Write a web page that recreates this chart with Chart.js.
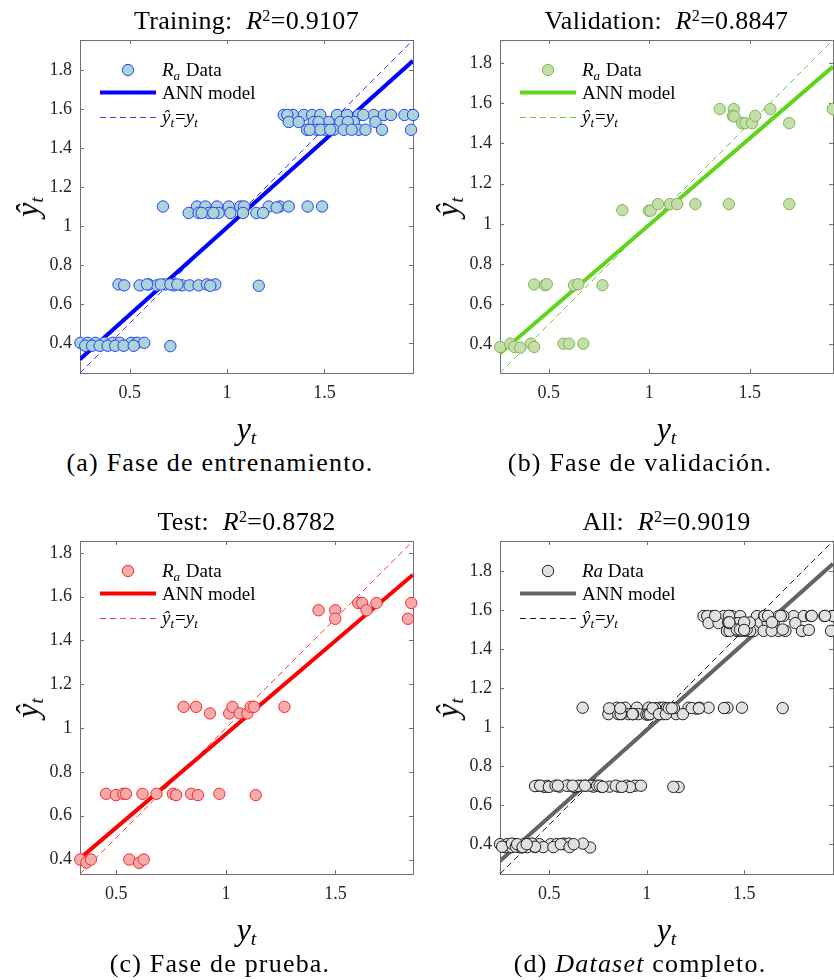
<!DOCTYPE html>
<html lang="es">
<head>
<meta charset="UTF-8">
<title>Regresión ANN - Ra</title>
<script src="https://cdn.jsdelivr.net/npm/chart.js"></script>
<style>
  body {
    margin: 0;
    width: 834px;
    height: 980px;
    overflow: hidden;
    position: relative;
    background: #fff;
    font-family: "Liberation Serif", serif;
    color: #000;
  }
  canvas { position: absolute; }
  .lbl {
    position: absolute;
    white-space: nowrap;
    transform: translate(-50%, -50%);
    line-height: 1;
  }
  .title { font-size: 26px; letter-spacing: 0.3px; }
  .caption { font-size: 26px; letter-spacing: 1.2px; }
  .axis { font-size: 32px; font-style: italic; }
  .ylab { transform: translate(-50%, -50%) rotate(-90deg); }
  sup { font-size: 0.62em; vertical-align: 0.5em; line-height: 0; }
  sub { font-size: 0.62em; vertical-align: -0.25em; line-height: 0; }
</style>
</head>
<body>

<script>
// ---- data ----
const xTicks = [0.5, 1, 1.5];
const yTicks = [0.4, 0.6, 0.8, 1, 1.2, 1.4, 1.6, 1.8];

// training phase
const trainX = [0.247, 0.284, 0.324, 0.370, 0.414, 0.449, 0.507, 0.538, 0.575,
  0.272, 0.307, 0.346, 0.387, 0.426, 0.469, 0.521, 0.709,
  0.443, 0.472, 0.551, 0.597, 0.640, 0.683, 0.726, 0.769, 0.808, 0.854, 0.897, 0.940, 1.163, 0.589, 0.660, 0.709, 0.745, 0.914,
  0.671, 0.846, 0.889, 0.949, 1.009, 1.068, 1.214, 1.271, 1.317, 1.414, 1.488, 1.255, 1.087,
  0.803, 0.854, 0.906, 0.957, 1.017, 1.082, 1.151, 1.185, 0.930, 0.870,
  1.291, 1.339, 1.394, 1.437, 1.479, 1.565, 1.616, 1.676, 1.753, 1.805, 1.842, 1.911, 1.955, 1.310, 1.700,
  1.317, 1.368, 1.445, 1.522, 1.582, 1.651, 1.762, 1.620, 1.470,
  1.411, 1.462, 1.505, 1.548, 1.599, 1.676, 1.711, 1.796, 1.945, 1.425, 1.480, 1.530, 1.640];
const trainY = [0.400, 0.400, 0.400, 0.400, 0.400, 0.400, 0.400, 0.400, 0.400,
  0.385, 0.385, 0.385, 0.385, 0.385, 0.385, 0.385, 0.383,
  0.700, 0.695, 0.695, 0.700, 0.695, 0.700, 0.695, 0.695, 0.695, 0.695, 0.700, 0.700, 0.693, 0.700, 0.700, 0.700, 0.700, 0.693,
  1.100, 1.100, 1.100, 1.100, 1.100, 1.100, 1.100, 1.100, 1.100, 1.100, 1.100, 1.095, 1.100,
  1.067, 1.067, 1.067, 1.067, 1.067, 1.067, 1.067, 1.067, 1.067, 1.067,
  1.570, 1.570, 1.570, 1.570, 1.570, 1.570, 1.570, 1.570, 1.570, 1.570, 1.570, 1.570, 1.570, 1.570, 1.570,
  1.534, 1.534, 1.534, 1.534, 1.534, 1.534, 1.534, 1.534, 1.534,
  1.494, 1.494, 1.494, 1.494, 1.494, 1.494, 1.494, 1.494, 1.494, 1.494, 1.494, 1.494, 1.494];

// validation phase
const valX = [0.258, 0.308, 0.328, 0.358, 0.411, 0.427, 0.573, 0.601, 0.672,
  0.427, 0.480, 0.490, 0.626, 0.647, 0.767,
  0.866, 0.998, 1.007, 1.043, 1.103, 1.139, 1.230, 1.396, 1.697,
  1.351, 1.421, 1.417, 1.424, 1.462, 1.478, 1.512, 1.528, 1.603, 1.697, 1.914];
const valY = [0.387, 0.403, 0.387, 0.383, 0.403, 0.387, 0.403, 0.403, 0.403,
  0.698, 0.694, 0.699, 0.694, 0.699, 0.694,
  1.068, 1.065, 1.065, 1.098, 1.098, 1.098, 1.098, 1.098, 1.098,
  1.571, 1.571, 1.537, 1.534, 1.501, 1.501, 1.501, 1.537, 1.571, 1.501, 1.571];

// test phase
const testX = [0.335, 0.363, 0.384, 0.559, 0.604, 0.625,
  0.453, 0.498, 0.532, 0.544, 0.619, 0.683, 0.758, 0.773, 0.841, 0.872, 0.970, 1.136,
  0.807, 0.864, 0.927, 1.015, 1.030, 1.063, 1.098, 1.113, 1.128, 1.267,
  1.423, 1.499, 1.499, 1.604, 1.622, 1.642, 1.687, 1.831, 1.846];
const testY = [0.400, 0.386, 0.400, 0.400, 0.385, 0.400,
  0.700, 0.694, 0.700, 0.700, 0.700, 0.700, 0.700, 0.694, 0.700, 0.694, 0.700, 0.694,
  1.097, 1.097, 1.067, 1.067, 1.097, 1.067, 1.067, 1.097, 1.097, 1.097,
  1.538, 1.538, 1.499, 1.571, 1.571, 1.538, 1.571, 1.499, 1.571];

// fitted ANN lines (end points)
const fitTrainX = [0.245, 1.955], fitTrainY = [0.316, 1.848];
const fitValX = [0.257, 1.915],   fitValY = [0.355, 1.783];
const fitTestX = [0.334, 1.854],  fitTestY = [0.405, 1.700];
const fitAllX = [0.247, 1.955],   fitAllY = [0.314, 1.838];

// axis limits (same for x and y)
const limTrain = [0.245, 1.955];
const limVal = [0.257, 1.915];
const limTest = [0.334, 1.854];
const limAll = [0.247, 1.955];

const r2Values = ['0.9107', '0.8847', '0.8782', '0.9019'];

// full dataset = union of the three phases
const allX = trainX.concat(valX, testX);
const allY = trainY.concat(valY, testY);

// ---- layout / styles ----
const FONT = '"Liberation Serif", serif';
const PLOT = 333;

const panels = [
  { id: 'a', left: 80, top: 40, capX: 220, title: 'Training:',
    caption: '(a) Fase de entrenamiento.',
    x: trainX, y: trainY, fitX: fitTrainX, fitY: fitTrainY, lim: limTrain, r2: r2Values[0],
    fill: 'rgb(170,212,214)', edge: 'rgb(40,60,255)', line: 'rgb(0,0,255)', dash: 'rgb(60,60,255)',
    ra: [{t: 'R', i: 1}, {t: 'a', i: 1, sub: 1}, {t: ' Data'}] },
  { id: 'b', left: 500, top: 40, capX: 640, title: 'Validation:',
    caption: '(b) Fase de validación.',
    x: valX, y: valY, fitX: fitValX, fitY: fitValY, lim: limVal, r2: r2Values[1],
    fill: 'rgb(196,222,170)', edge: 'rgb(128,182,84)', line: 'rgb(95,212,25)', dash: 'rgb(118,200,58)',
    ra: [{t: 'R', i: 1}, {t: 'a', i: 1, sub: 1}, {t: ' Data'}] },
  { id: 'c', left: 80, top: 541, capX: 220, title: 'Test:',
    caption: '(c) Fase de prueba.',
    x: testX, y: testY, fitX: fitTestX, fitY: fitTestY, lim: limTest, r2: r2Values[2],
    fill: 'rgb(245,170,172)', edge: 'rgb(250,40,40)', line: 'rgb(255,0,0)', dash: 'rgb(255,60,60)',
    ra: [{t: 'R', i: 1}, {t: 'a', i: 1, sub: 1}, {t: ' Data'}] },
  { id: 'd', left: 500, top: 541, capX: 640, title: 'All:',
    caption: '(d) <i>Dataset</i> completo.',
    x: allX, y: allY, fitX: fitAllX, fitY: fitAllY, lim: limAll, r2: r2Values[3],
    fill: 'rgb(225,225,225)', edge: 'rgb(30,30,30)', line: 'rgb(100,100,100)', dash: 'rgb(30,30,30)',
    ra: [{t: 'Ra', i: 1}, {t: ' Data'}] }
];

function toPoints(xs, ys) {
  return xs.map((v, k) => ({ x: v, y: ys[k] }));
}

function addLabel(cls, html, x, y) {
  const el = document.createElement('div');
  el.className = 'lbl ' + cls;
  el.innerHTML = html;
  el.style.left = x + 'px';
  el.style.top = y + 'px';
  document.body.appendChild(el);
}

// text with italic / subscript pieces, baseline at y
function drawRich(ctx, parts, x, y) {
  let cx = x;
  parts.forEach(p => {
    const size = p.sub ? 13 : 19;
    ctx.font = (p.i ? 'italic ' : '') + size + 'px ' + FONT;
    ctx.fillStyle = '#000';
    ctx.textBaseline = 'alphabetic';
    ctx.fillText(p.t, cx, y + (p.sub ? 4 : 0));
    cx += ctx.measureText(p.t).width + (p.sub ? 1 : 0);
  });
}

// axes box with inward ticks on every side
const boxPlugin = {
  id: 'boxTicks',
  beforeDatasetsDraw(chart) {
    const { ctx, chartArea: a, scales } = chart;
    ctx.save();
    ctx.strokeStyle = '#707070';
    ctx.lineWidth = 1;
    ctx.strokeRect(Math.round(a.left) + 0.5, Math.round(a.top) + 0.5,
      Math.round(a.right - a.left), Math.round(a.bottom - a.top));
    ctx.beginPath();
    xTicks.forEach(v => {
      const px = Math.round(scales.x.getPixelForValue(v)) + 0.5;
      ctx.moveTo(px, a.bottom); ctx.lineTo(px, a.bottom - 4);
      ctx.moveTo(px, a.top); ctx.lineTo(px, a.top + 4);
    });
    yTicks.forEach(v => {
      const py = Math.round(scales.y.getPixelForValue(v)) + 0.5;
      if (py < a.top || py > a.bottom) return;
      ctx.moveTo(a.left, py); ctx.lineTo(a.left + 4, py);
      ctx.moveTo(a.right, py); ctx.lineTo(a.right - 4, py);
    });
    ctx.stroke();
    ctx.restore();
  }
};

// legend in the upper-left corner of the axes
const legendPlugin = {
  id: 'cornerLegend',
  afterDraw(chart, args, opts) {
    const { ctx, chartArea: { left, top } } = chart;
    const ds = chart.data.datasets;
    ctx.save();
    ctx.beginPath();
    ctx.arc(left + 48, top + 30, 5.7, 0, Math.PI * 2);
    ctx.fillStyle = ds[0].backgroundColor;
    ctx.fill();
    ctx.lineWidth = 1;
    ctx.strokeStyle = ds[0].borderColor;
    ctx.stroke();

    ctx.beginPath();
    ctx.moveTo(left + 20, top + 52.5);
    ctx.lineTo(left + 76, top + 52.5);
    ctx.lineWidth = 4;
    ctx.strokeStyle = ds[1].borderColor;
    ctx.stroke();

    ctx.beginPath();
    ctx.setLineDash([6, 4]);
    ctx.moveTo(left + 20, top + 77.5);
    ctx.lineTo(left + 76, top + 77.5);
    ctx.lineWidth = 1;
    ctx.strokeStyle = ds[2].borderColor;
    ctx.stroke();
    ctx.setLineDash([]);

    drawRich(ctx, opts.ra, left + 82, top + 36);
    drawRich(ctx, [{ t: 'ANN model' }], left + 82, top + 59);
    drawRich(ctx, [{ t: '\u0177', i: 1 }, { t: 't', i: 1, sub: 1 }, { t: '=' },
      { t: 'y', i: 1 }, { t: 't', i: 1, sub: 1 }], left + 82, top + 83);
    ctx.restore();
  }
};

function tickOpts(pad) {
  return {
    padding: pad,
    color: '#262626',
    font: { family: FONT, size: 18 },
    callback: v => String(v)
  };
}

// keep the plot box exactly where the layout puts it
function fixScale(s, size) {
  if (s.isHorizontal()) s.height = size; else s.width = size;
  s.paddingTop = 0; s.paddingBottom = 0; s.paddingLeft = 0; s.paddingRight = 0;
}

panels.forEach(p => {
  const canvas = document.createElement('canvas');
  canvas.width = 60 + PLOT + 8;
  canvas.height = 10 + PLOT + 40;
  canvas.style.left = (p.left - 60) + 'px';
  canvas.style.top = (p.top - 10) + 'px';
  document.body.appendChild(canvas);

  const cx = p.left + PLOT / 2;
  addLabel('title', p.title + '&nbsp; <i>R</i><sup>2</sup>=' + p.r2, cx, p.top - 19);
  addLabel('axis', 'y<sub>t</sub>', cx, p.top + PLOT + 55);
  addLabel('axis ylab', '\u0177<sub>t</sub>', p.left - 53, p.top + PLOT / 2);
  addLabel('caption', p.caption, p.capX, p.top + PLOT + 90);

  new Chart(canvas, {
    type: 'scatter',
    data: {
      datasets: [
        { label: 'Ra Data', data: toPoints(p.x, p.y), backgroundColor: p.fill, borderColor: p.edge,
          borderWidth: 1, pointRadius: 5.7, order: 0, clip: false },
        { type: 'line', label: 'ANN model', data: toPoints(p.fitX, p.fitY), borderColor: p.line,
          borderWidth: 4, pointRadius: 0, fill: false, order: 1 },
        { type: 'line', label: 'y = x', data: toPoints(p.lim, p.lim), borderColor: p.dash,
          borderWidth: 1, borderDash: [6, 4], pointRadius: 0, fill: false, order: 2 }
      ]
    },
    options: {
      responsive: false,
      animation: false,
      events: [],
      layout: { padding: { left: 0, top: 10, right: 8, bottom: 0 } },
      plugins: {
        legend: { display: false },
        tooltip: { enabled: false },
        cornerLegend: { ra: p.ra }
      },
      scales: {
        x: {
          type: 'linear', min: p.lim[0], max: p.lim[1],
          grid: { display: false, drawTicks: false }, border: { display: false },
          afterBuildTicks: s => { s.ticks = xTicks.map(v => ({ value: v })); },
          afterFit: s => fixScale(s, 40),
          ticks: tickOpts(9)
        },
        y: {
          type: 'linear', min: p.lim[0], max: p.lim[1],
          grid: { display: false, drawTicks: false }, border: { display: false },
          afterBuildTicks: s => { s.ticks = yTicks.filter(v => v >= p.lim[0] && v <= p.lim[1]).map(v => ({ value: v })); },
          afterFit: s => fixScale(s, 60),
          ticks: tickOpts(8)
        }
      }
    },
    plugins: [boxPlugin, legendPlugin]
  });
});
</script>
</body>
</html>
